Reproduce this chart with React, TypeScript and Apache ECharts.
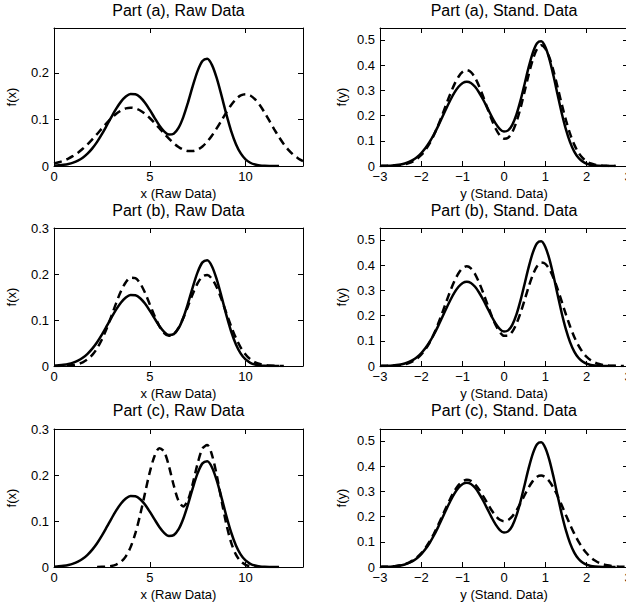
import React, { useEffect, useRef } from "react";
import * as echarts from "echarts";

// sample positions
const RAW_X = [
  0, 0.25, 0.5, 0.75, 1, 1.25, 1.5, 1.75, 2, 2.25, 2.5, 2.75, 3, 3.25, 3.5, 3.75,
  4, 4.25, 4.5, 4.75, 5, 5.25, 5.5, 5.75, 6, 6.25, 6.5, 6.75, 7, 7.25, 7.5, 7.75,
  8, 8.25, 8.5, 8.75, 9, 9.25, 9.5, 9.75, 10, 10.25, 10.5, 10.75, 11, 11.25, 11.5, 11.75,
  12, 12.25, 12.5, 12.75, 13,
];
const STD_X = [
  -3, -2.9, -2.8, -2.7, -2.6, -2.5, -2.4, -2.3, -2.2, -2.1,
  -2, -1.9, -1.8, -1.7, -1.6, -1.5, -1.4, -1.3, -1.2, -1.1,
  -1, -0.9, -0.8, -0.7, -0.6, -0.5, -0.4, -0.3, -0.2, -0.1,
  0, 0.1, 0.2, 0.3, 0.4, 0.5, 0.6, 0.7, 0.8, 0.9,
  1, 1.1, 1.2, 1.3, 1.4, 1.5, 1.6, 1.7, 1.8, 1.9,
  2, 2.1, 2.2, 2.3, 2.4, 2.5, 2.6, 2.7, 2.8, 2.9, 3,
];

// raw-data densities (solid = true density, dashed = part a/b/c)
const RAW_SOLID = [
  0.0007, 0.0014, 0.0025, 0.0043, 0.0072, 0.0115, 0.0178, 0.0265, 0.0378, 0.0518, 0.0683, 0.0865,
  0.1052, 0.123, 0.1381, 0.149, 0.1545, 0.1539, 0.1474, 0.1357, 0.1203, 0.1034, 0.0871, 0.0743,
  0.0674, 0.0693, 0.0816, 0.1049, 0.1367, 0.1722, 0.2041, 0.2252, 0.2298, 0.2164, 0.1878, 0.1503,
  0.1107, 0.075, 0.0469, 0.027, 0.0143, 0.007, 0.0031, 0.0013, 0.0005, 0.0002, 0.0001, 0,
  null, null, null, null, null,
];
const RAW_DASH_A = [
  0.0055, 0.008, 0.0114, 0.0159, 0.0216, 0.0285, 0.0369, 0.0465, 0.0572, 0.0687, 0.0806, 0.0921,
  0.1028, 0.112, 0.119, 0.1235, 0.125, 0.1235, 0.119, 0.112, 0.1029, 0.0923, 0.081, 0.0694,
  0.0585, 0.0488, 0.0409, 0.0351, 0.0321, 0.0321, 0.0353, 0.042, 0.0522, 0.0655, 0.0811, 0.0981,
  0.1152, 0.1308, 0.1432, 0.1514, 0.1541, 0.1512, 0.1429, 0.1302, 0.1143, 0.0966, 0.0787, 0.0618,
  0.0467, 0.034, 0.0239, 0.0162, 0.0105,
];
const RAW_DASH_B = [
  0.0001, 0.0002, 0.0004, 0.001, 0.0021, 0.0042, 0.008, 0.0143, 0.0241, 0.0384, 0.0577, 0.0817,
  0.1091, 0.1373, 0.1629, 0.1822, 0.1921, 0.191, 0.1796, 0.1594, 0.1344, 0.1089, 0.0869, 0.0717,
  0.0656, 0.0695, 0.0831, 0.1044, 0.1306, 0.1573, 0.18, 0.1945, 0.198, 0.1894, 0.1706, 0.1445,
  0.115, 0.0861, 0.0606, 0.0401, 0.025, 0.0146, 0.008, 0.0042, 0.002, 0.0009, 0.0004, 0.0002,
  0.0001, null, null, null, null,
];
const RAW_DASH_C = [
  null, null, null, null, null, null, null, null, null, 0.0001, 0.0003, 0.0008,
  0.002, 0.0051, 0.0113, 0.0232, 0.0432, 0.0735, 0.1137, 0.1603, 0.206, 0.2413, 0.2584, 0.2508,
  0.2193, 0.1777, 0.1439, 0.1316, 0.1462, 0.1821, 0.2251, 0.2575, 0.2652, 0.2434, 0.1987, 0.1441,
  0.0927, 0.053, 0.0269, 0.0121, 0.0048, 0.0017, 0.0005, 0.0001, null, null, null, null,
  null, null, null, null, null,
];

// standardized-data densities
const STD_SOLID = [
  0.0004, 0.0007, 0.0012, 0.0022, 0.0038, 0.0063, 0.0102, 0.016, 0.0243, 0.0358,
  0.0512, 0.0709, 0.0952, 0.1238, 0.1562, 0.1911, 0.2267, 0.2606, 0.2905, 0.3139,
  0.3289, 0.334, 0.3289, 0.3139, 0.2905, 0.2617, 0.2293, 0.1968, 0.1679, 0.1465,
  0.1364, 0.1411, 0.1632, 0.2035, 0.2599, 0.3263, 0.3937, 0.4507, 0.4868, 0.4946,
  0.472, 0.4229, 0.3555, 0.2801, 0.2072, 0.1438, 0.0936, 0.0571, 0.0327, 0.0176,
  0.0088, 0.0042, 0.0018, 0.0008, 0.0003, 0.0001, 0, 0, null, null, null,
];
const STD_DASH_A = [
  0.0001, 0.0003, 0.0006, 0.0012, 0.0022, 0.0039, 0.0068, 0.0115, 0.0186, 0.029,
  0.0438, 0.0637, 0.0895, 0.1212, 0.1584, 0.1998, 0.2432, 0.2856, 0.3236, 0.3538,
  0.3733, 0.38, 0.3722, 0.3496, 0.315, 0.2733, 0.2282, 0.1848, 0.1478, 0.1212,
  0.1083, 0.112, 0.134, 0.1741, 0.23, 0.2963, 0.3643, 0.4236, 0.4642, 0.4784,
  0.4654, 0.429, 0.3748, 0.3102, 0.2432, 0.1807, 0.1271, 0.0847, 0.0535, 0.032,
  0.0182, 0.0098, 0.005, 0.0024, 0.0011, 0.0005, 0.0002, 0.0001, null, null, null,
];
const STD_DASH_B = [
  0.0002, 0.0003, 0.0006, 0.0012, 0.0023, 0.0041, 0.0071, 0.0119, 0.0193, 0.0302,
  0.0455, 0.0662, 0.093, 0.126, 0.1647, 0.2077, 0.2528, 0.2968, 0.3363, 0.3678,
  0.388, 0.395, 0.3872, 0.3646, 0.3299, 0.2886, 0.2433, 0.1996, 0.162, 0.1344,
  0.1198, 0.1201, 0.1361, 0.1673, 0.2108, 0.2623, 0.3153, 0.3621, 0.3955, 0.4102,
  0.4049, 0.3833, 0.3482, 0.3035, 0.2537, 0.2034, 0.1565, 0.1154, 0.0817, 0.0554,
  0.0361, 0.0226, 0.0135, 0.0078, 0.0043, 0.0023, 0.0011, 0.0006, 0.0003, 0.0001, null,
];
const STD_DASH_C = [
  0.0004, 0.0008, 0.0015, 0.0025, 0.0043, 0.0071, 0.0114, 0.0177, 0.0267, 0.0389,
  0.0552, 0.0758, 0.1011, 0.1308, 0.1642, 0.1999, 0.2362, 0.2707, 0.301, 0.3247,
  0.3398, 0.3459, 0.3415, 0.3278, 0.3066, 0.2802, 0.2519, 0.2249, 0.2025, 0.1873,
  0.1814, 0.1859, 0.2005, 0.2237, 0.2533, 0.2854, 0.3161, 0.3414, 0.3577, 0.3625,
  0.3559, 0.339, 0.3132, 0.2806, 0.2437, 0.2051, 0.1674, 0.1324, 0.1016, 0.0755,
  0.0544, 0.0379, 0.0257, 0.0168, 0.0107, 0.0066, 0.0039, 0.0023, 0.0013, 0.0007, 0.0004,
];

const TITLES = [
  "Part (a), Raw Data", "Part (a), Stand. Data",
  "Part (b), Raw Data", "Part (b), Stand. Data",
  "Part (c), Raw Data", "Part (c), Stand. Data",
];
const X_NAMES = ["x (Raw Data)", "y (Stand. Data)"];
const Y_NAMES = ["f(x)", "f(y)"];
const RAW_RANGE = [0, 13, 5];
const STD_RANGE = [-3, 3, 1];
const Y_MAX = [0.296, 0.547, 0.3, 0.547, 0.3, 0.547];

const FONT = "'Liberation Sans', Arial, Helvetica, sans-serif";
const COL_LEFT = [54, 380];
const COL_WIDTH = [249, 248];
const ROW_TOP = [28, 228, 429];
const PLOT_H = 138;
const TITLE_Y = [10, 210, 410];
const Y_NAME_GAP = [36, 32];

function pairs(xs: number[], ys: (number | null)[]) {
  const out: number[][] = [];
  xs.forEach((x, i) => {
    const y = ys[i];
    if (y !== null && y !== undefined) out.push([x, y]);
  });
  return out;
}

function fmtX(v: number, step: number) {
  const r = Math.round(v / step) * step;
  if (Math.abs(v - r) > 1e-6) return "";
  return r < 0 ? "\u2212" + String(Math.abs(r)) : String(r);
}
function fmtY(v: number) {
  const r = Math.round(v * 10) / 10;
  if (Math.abs(v - r) > 1e-6) return "";
  return r === 0 ? "0" : r.toFixed(1);
}

export default function App() {
  const ref = useRef<HTMLDivElement>(null);
  useEffect(() => {
    if (!ref.current) return;
    const chart = echarts.init(ref.current, null, { renderer: "svg" });
    const grids: any[] = [];
    const xAxes: any[] = [];
    const yAxes: any[] = [];
    const series: any[] = [];
    const graphics: any[] = [];
    const black = "#000";
    const solidSets = [RAW_SOLID, STD_SOLID];
    const dashSets = [
      [RAW_DASH_A, STD_DASH_A],
      [RAW_DASH_B, STD_DASH_B],
      [RAW_DASH_C, STD_DASH_C],
    ];
    for (let row = 0; row < 3; row++) {
      for (let col = 0; col < 2; col++) {
        const i = row * 2 + col;
        const rng = col === 0 ? RAW_RANGE : STD_RANGE;
        const xs = col === 0 ? RAW_X : STD_X;
        grids.push({
          left: COL_LEFT[col],
          top: ROW_TOP[row],
          width: COL_WIDTH[col],
          height: PLOT_H,
          containLabel: false,
          outerBoundsMode: "none",
          show: false,
        });
        const common = {
          type: "value",
          gridIndex: i,
          splitLine: { show: false },
          axisLine: { show: true, onZero: false, lineStyle: { color: black, width: 1 } },
          axisTick: { show: true, inside: true, length: 5, lineStyle: { color: black, width: 1 } },
        };
        xAxes.push({
          ...common,
          position: "bottom",
          min: rng[0],
          max: rng[1],
          interval: rng[2],
          axisLabel: {
            show: true,
            color: black,
            fontSize: 13,
            fontFamily: FONT,
            margin: 4,
            formatter: (v: number) => fmtX(v, rng[2]),
          },
          name: X_NAMES[col],
          nameLocation: "middle",
          nameGap: 21,
          nameTextStyle: { color: black, fontSize: 13, fontFamily: FONT },
        });
        xAxes.push({
          ...common,
          position: "top",
          min: rng[0],
          max: rng[1],
          interval: rng[2],
          axisLabel: { show: false },
        });
        yAxes.push({
          ...common,
          position: "left",
          min: 0,
          max: Y_MAX[i],
          interval: 0.1,
          axisLabel: {
            show: true,
            color: black,
            fontSize: 13,
            fontFamily: FONT,
            margin: 5,
            formatter: (v: number) => fmtY(v),
          },
          name: Y_NAMES[col],
          nameLocation: "middle",
          nameGap: Y_NAME_GAP[col],
          nameTextStyle: { color: black, fontSize: 13, fontFamily: FONT },
        });
        yAxes.push({
          ...common,
          position: "right",
          min: 0,
          max: Y_MAX[i],
          interval: 0.1,
          axisLabel: { show: false },
        });
        series.push({
          type: "line",
          xAxisIndex: i * 2,
          yAxisIndex: i * 2,
          data: pairs(xs, solidSets[col]),
          showSymbol: false,
          symbol: "none",
          smooth: 0.3,
          lineStyle: { color: black, width: 2.5, type: "solid" },
          z: 2,
        });
        series.push({
          type: "line",
          xAxisIndex: i * 2,
          yAxisIndex: i * 2,
          data: pairs(xs, dashSets[row][col]),
          showSymbol: false,
          symbol: "none",
          smooth: 0.3,
          lineStyle: { color: black, width: 2.5, type: [8, 5] },
          z: 3,
        });
        graphics.push({
          type: "text",
          x: COL_LEFT[col] + COL_WIDTH[col] / 2,
          y: TITLE_Y[row],
          style: {
            text: TITLES[i],
            fill: black,
            font: "16px " + FONT,
            align: "center",
            verticalAlign: "middle",
            textAlign: "center",
            textVerticalAlign: "middle",
          },
        });
      }
    }
    chart.setOption({
      animation: false,
      backgroundColor: "#fff",
      grid: grids,
      xAxis: xAxes,
      yAxis: yAxes,
      series,
      graphic: graphics,
    });
    return () => chart.dispose();
  }, []);
  return (
    <div
      ref={ref}
      style={{ position: "fixed", left: 0, top: 0, width: 626, height: 607, background: "#fff" }}
    />
  );
}
